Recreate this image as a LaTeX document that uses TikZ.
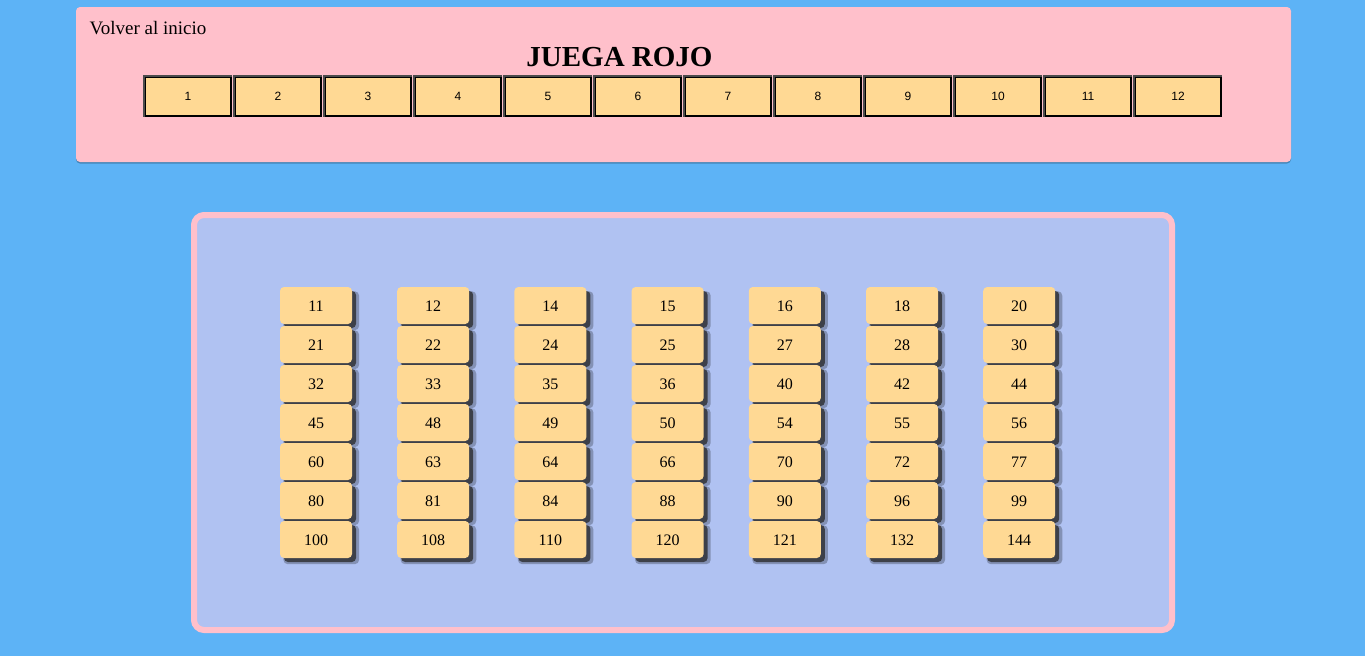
\documentclass[tikz,border=0pt]{standalone}
\usepackage{fontspec}
\setmainfont{Liberation Serif}
\setsansfont{Liberation Sans}
\usetikzlibrary{shadows}
\definecolor{skyblue}{RGB}{93,179,246}
\definecolor{panelpink}{RGB}{255,192,203}
\definecolor{boardblue}{RGB}{176,194,242}
\definecolor{tilegold}{RGB}{255,217,148}

\begin{document}
\begin{tikzpicture}[x=1pt,y=-1pt,
            tab/.style={draw=black,line width=2pt,fill=tilegold,minimum width=86pt,
              minimum height=39pt,inner sep=0pt,text height=8.6pt,text depth=0pt,
              font=\sffamily\fontsize{12}{14}\selectfont},
            tile/.style={fill=tilegold,rounded corners=4pt,minimum width=72pt,
              minimum height=37pt,inner sep=0pt,text height=11pt,text depth=0pt,
              font=\fontsize{16}{19}\selectfont,
              general shadow={shadow xshift=5pt,shadow yshift=-5pt,shadow scale=1.05,fill=black,opacity=.25},
              drop shadow={shadow xshift=4pt,shadow yshift=-4pt,fill=black!85,opacity=.75}}]

        % Define background and panels
        \fill[skyblue] (0,0) rectangle (1365,656);
        \useasboundingbox (0,0) rectangle (1365,656);
        \fill[panelpink,rounded corners=4pt,
          drop shadow={shadow xshift=0pt,shadow yshift=-1.5pt,fill=black,opacity=.25}]
          (76,7) rectangle (1291,162);
        \draw[panelpink,line width=6pt,fill=boardblue,rounded corners=10pt]
          (194,215) rectangle (1172,630);

        % Define header
        \node[anchor=base west,font=\fontsize{19}{23}\selectfont] (home) at (86,34) {Volver al inicio};
        \node[anchor=base,font=\bfseries\fontsize{29}{34}\selectfont] (title) at (619.5,66) {JUEGA ROJO};

        % Define tabs
        \foreach \i in {1,...,12} {
            \node[tab] (b\i) at ({188+(\i-1)*90},96) {\i};
            \draw[black!70,line width=2pt] (b\i.south west) -- (b\i.north west) -- (b\i.north east);
        }

        % Define tiles
        \foreach \c/\vals in {1/{11,21,32,45,60,80,100},2/{12,22,33,48,63,81,108},
                              3/{14,24,35,49,64,84,110},4/{15,25,36,50,66,88,120},
                              5/{16,27,40,54,70,90,121},6/{18,28,42,55,72,96,132},
                              7/{20,30,44,56,77,99,144}}
            \foreach \v [count=\r] in \vals
                \node[tile] (t\v) at ({316+(\c-1)*117.2},{305.5+(\r-1)*39}) {\v};

        \end{tikzpicture}
\end{document}
